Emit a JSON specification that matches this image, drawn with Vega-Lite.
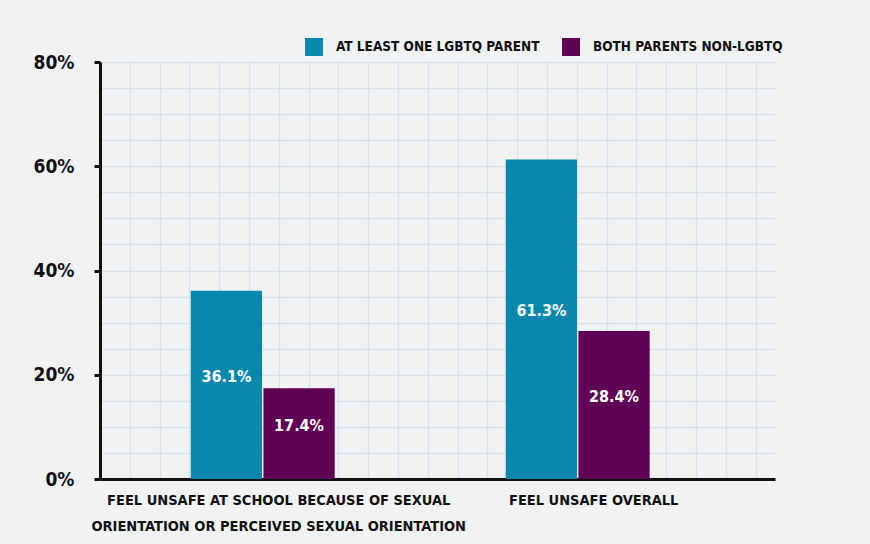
{
  "$schema": "https://vega.github.io/schema/vega-lite/v6.json",
  "width": 675,
  "height": 417,
  "autosize": {"type": "none"},
  "padding": {"left": 100, "top": 62, "right": 95, "bottom": 65},
  "background": "#f1f2f3",
  "config": {"view": {"stroke": null}, "font": "DejaVu Sans Condensed, DejaVu Sans, sans-serif"},
  "data": {
    "values": [
      {"measure": "FEEL UNSAFE AT SCHOOL BECAUSE OF SEXUAL ORIENTATION OR PERCEIVED SEXUAL ORIENTATION", "group": "AT LEAST ONE LGBTQ PARENT", "value": 0.361},
      {"measure": "FEEL UNSAFE AT SCHOOL BECAUSE OF SEXUAL ORIENTATION OR PERCEIVED SEXUAL ORIENTATION", "group": "BOTH PARENTS NON-LGBTQ", "value": 0.174},
      {"measure": "FEEL UNSAFE OVERALL", "group": "AT LEAST ONE LGBTQ PARENT", "value": 0.613},
      {"measure": "FEEL UNSAFE OVERALL", "group": "BOTH PARENTS NON-LGBTQ", "value": 0.284}
    ]
  },
  "layer": [
    {
      "mark": {"type": "tick", "opacity": 0, "clip": true},
      "encoding": {
        "x": {
          "field": "value",
          "type": "quantitative",
          "scale": {"domain": [0, 22.65], "nice": false},
          "axis": {
            "orient": "top",
            "values": [0, 1, 2, 3, 4, 5, 6, 7, 8, 9, 10, 11, 12, 13, 14, 15, 16, 17, 18, 19, 20, 21, 22],
            "grid": true,
            "gridColor": "#d6e3ec",
            "gridWidth": 1.3,
            "labels": false,
            "ticks": false,
            "domain": false,
            "title": null
          }
        }
      }
    },
    {
      "layer": [
        {
          "mark": {"type": "bar"},
          "encoding": {
            "x": {
              "field": "measure",
              "type": "nominal",
              "sort": null,
              "scale": {"paddingInner": 0.543, "paddingOuter": 0.343, "align": 0.42},
              "axis": {
                "title": null,
                "labelAngle": 0,
                "ticks": false,
                "domainColor": "#111111",
                "domainWidth": 3,
                "labelFontSize": 14.5,
                "labelFontWeight": "bold",
                "labelColor": "#111111",
                "labelPadding": 14,
                "labelOffset": 16,
                "labelLineHeight": 26,
                "labelBaseline": "top",
                "labelLimit": 0,
                "labelExpr": "datum.label == 'FEEL UNSAFE OVERALL' ? datum.label : ['FEEL UNSAFE AT SCHOOL BECAUSE OF SEXUAL', 'ORIENTATION OR PERCEIVED SEXUAL ORIENTATION']"
              }
            },
            "xOffset": {"field": "group", "type": "nominal", "sort": null, "scale": {"paddingInner": 0.02}},
            "y": {
              "field": "value",
              "type": "quantitative",
              "scale": {"domain": [0, 0.8], "nice": false},
              "axis": {
                "title": null,
                "values": [0, 0.05, 0.1, 0.15, 0.2, 0.25, 0.3, 0.35, 0.4, 0.45, 0.5, 0.55, 0.6, 0.65, 0.7, 0.75, 0.8],
                "format": ".0%",
                "labelExpr": "round(datum.value * 100) % 20 === 0 ? datum.label : ''",
                "grid": true,
                "gridColor": "#d6e3ec",
                "gridWidth": 1.3,
                "domainColor": "#111111",
                "domainWidth": 3,
                "tickColor": "#111111",
                "tickWidth": 3,
                "tickSize": 6,
                "tickOpacity": {"condition": {"test": "round(datum.value * 100) % 20 === 0", "value": 1}, "value": 0},
                "labelFontSize": 19,
                "labelFontWeight": "bold",
                "labelColor": "#111111",
                "labelPadding": 20
              }
            },
            "color": {
              "field": "group",
              "type": "nominal",
              "sort": null,
              "scale": {"range": ["#0888ad", "#600055"]},
              "legend": {
                "title": null,
                "orient": "none",
                "legendX": 205,
                "legendY": -24,
                "direction": "horizontal",
                "symbolType": "square",
                "symbolSize": 324,
                "symbolStrokeWidth": 0,
                "symbolOpacity": 1,
                "labelFontSize": 13.5,
                "labelFontWeight": "bold",
                "labelColor": "#111111",
                "labelOffset": 13,
                "columnPadding": 22,
                "labelLimit": 0
              }
            }
          }
        },
        {
          "mark": {"type": "text", "color": "white", "fontSize": 16, "fontWeight": "bold", "baseline": "middle", "dy": -8},
          "encoding": {
            "x": {"field": "measure", "type": "nominal", "sort": null},
            "xOffset": {"field": "group", "type": "nominal", "sort": null},
            "y": {"field": "value", "type": "quantitative", "scale": {"domain": [0, 1.6], "nice": false}, "axis": null},
            "text": {"field": "value", "type": "quantitative", "format": ".1%"}
          }
        }
      ],
      "resolve": {"scale": {"y": "independent"}}
    }
  ],
  "resolve": {"scale": {"x": "independent"}, "axis": {"x": "independent"}}
}
